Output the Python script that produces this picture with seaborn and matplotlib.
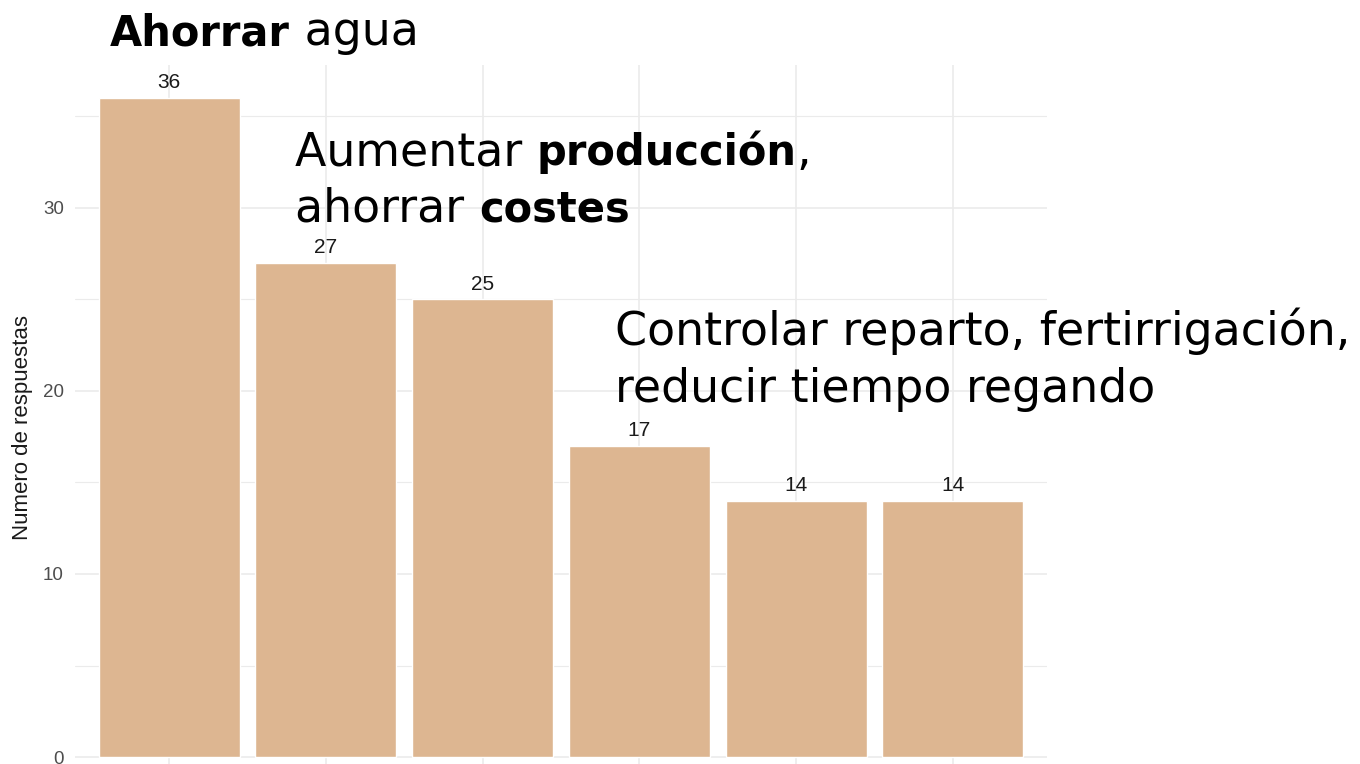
import matplotlib
matplotlib.use("Agg")
import matplotlib.pyplot as plt
import seaborn as sns
import pandas as pd

# respuestas por categoria (eje x recortado en la imagen original)
categorias = ["Ahorrar agua", "Aumentar produccion", "Ahorrar costes",
              "Controlar reparto", "Fertirrigacion", "Reducir tiempo"]
respuestas = [36, 27, 25, 17, 14, 14]
y_ticks = [0, 10, 20, 30]
y_minor = [5, 15, 25, 35]

bar_color = "#DDB691"
grid_color = "#EBEBEB"

df = pd.DataFrame({"categoria": categorias, "respuestas": respuestas})

sns.set_style("white")
plt.rcParams["font.family"] = ["Liberation Sans", "DejaVu Sans"]

W, H = 1360, 764
fig = plt.figure(figsize=(W / 100, H / 100), dpi=100)
# axes run past the bottom edge, like the cropped source
left, right, top, bottom = 75, 1047, 65, 790
ax = fig.add_axes([left / W, (H - bottom) / H, (right - left) / W, (bottom - top) / H])

sns.barplot(data=df, x="categoria", y="respuestas", color=bar_color,
            width=0.9, saturation=1, ax=ax, zorder=3)

ax.set_xlim(-0.6, len(categorias) - 0.4)
ax.set_ylim(-1.8, 37.8)
ax.set_yticks(y_ticks)
ax.set_yticks(y_minor, minor=True)
ax.grid(True, which="major", axis="both", color=grid_color, lw=1.2, zorder=0)
ax.grid(True, which="minor", axis="y", color=grid_color, lw=0.8, zorder=0)
ax.set_axisbelow(True)
for s in ax.spines.values():
    s.set_visible(False)
ax.tick_params(axis="both", which="both", length=0)
ax.tick_params(axis="y", labelsize=13.5, labelcolor="#4D4D4D", pad=8)
ax.set_xticklabels([])
ax.set_xlabel("")
ax.set_ylabel("Numero de respuestas", fontsize=16, color="#1A1A1A")
ax.yaxis.set_label_coords((33 - left) / (right - left), (bottom - 428) / (bottom - top))

ax.bar_label(ax.containers[0], labels=[str(v) for v in respuestas],
             fontsize=15, color="#1A1A1A", padding=4)

# textos superpuestos (estilo diapositiva)
big = 33
big_bold = 30
fam = ["DejaVu Sans"]
renderer = fig.canvas.get_renderer()


def line(x, y, parts):
    # pieces of one line, normal and bold, placed side by side on one baseline
    for txt, bold in parts:
        t = fig.text(x / W, 1 - y / H, txt, fontsize=big_bold if bold else big,
                     family=fam, fontweight="bold" if bold else "normal",
                     color="black", va="baseline", ha="left")
        x += t.get_window_extent(renderer).width


line(110, 45, [("Ahorrar", True), (" agua", False)])
line(295, 165, [("Aumentar ", False), ("producción", True), (",", False)])
line(295, 222, [("ahorrar ", False), ("costes", True)])
line(615, 345, [("Controlar reparto, fertirrigación,", False)])
line(615, 402, [("reducir tiempo regando", False)])

fig.savefig("out.png", dpi=100)
